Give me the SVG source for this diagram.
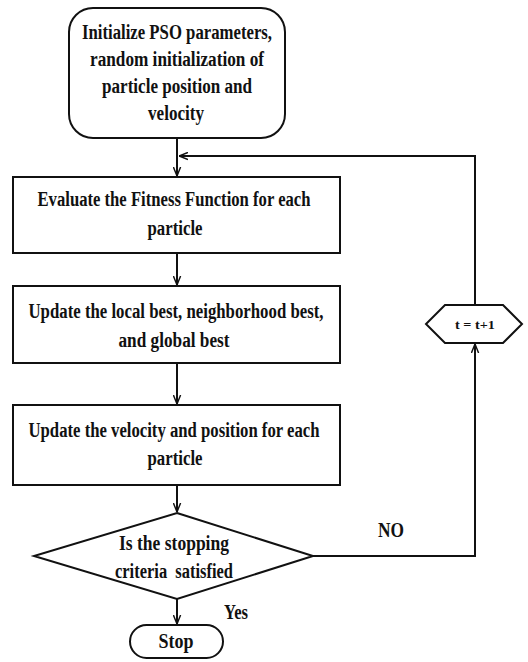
<svg xmlns="http://www.w3.org/2000/svg" width="528" height="662" viewBox="0 0 528 662">
<defs>
<style>
.s{fill:#fff;stroke:#111;stroke-width:2}
.t{font-family:"Liberation Serif",serif;font-weight:bold;font-size:20px;fill:#111;text-anchor:middle}
.c{fill:none;stroke:#111;stroke-width:2}
</style>
<marker id="a" viewBox="0 0 10 10" refX="10" refY="5" markerWidth="9" markerHeight="9" orient="auto" markerUnits="userSpaceOnUse">
<path d="M0,1 L10,5 L0,9" fill="none" stroke="#111" stroke-width="1.6"/>
</marker>
</defs>
<rect width="528" height="662" fill="#fff"/>
<g id="connectors">
<line class="c" x1="177" y1="138" x2="177" y2="176" marker-end="url(#a)"/>
<polyline class="c" points="475,305 475,156 179,156" marker-end="url(#a)"/>
<line class="c" x1="177" y1="253" x2="177" y2="285" marker-end="url(#a)"/>
<line class="c" x1="177" y1="363" x2="177" y2="404" marker-end="url(#a)"/>
<line class="c" x1="177" y1="485" x2="177" y2="512" marker-end="url(#a)"/>
<polyline class="c" points="313,556 475,556 475,344" marker-end="url(#a)"/>
<line class="c" x1="177" y1="599" x2="177" y2="624" marker-end="url(#a)"/>
<text class="t" x="391" y="537" textLength="26" lengthAdjust="spacingAndGlyphs">NO</text>
<text class="t" x="236" y="619" textLength="24" lengthAdjust="spacingAndGlyphs">Yes</text>
</g>
<g id="init">
<rect class="s" x="69" y="8" width="216" height="130" rx="24"/>
<text class="t" x="177" y="39" textLength="190" lengthAdjust="spacingAndGlyphs">Initialize PSO parameters,</text>
<text class="t" x="177" y="66" textLength="174" lengthAdjust="spacingAndGlyphs">random initialization of</text>
<text class="t" x="177" y="93" textLength="150" lengthAdjust="spacingAndGlyphs">particle position and</text>
<text class="t" x="176" y="120" textLength="56" lengthAdjust="spacingAndGlyphs">velocity</text>
</g>
<g id="evaluate">
<rect class="s" x="13" y="177" width="327" height="76"/>
<text class="t" x="174" y="206" textLength="273" lengthAdjust="spacingAndGlyphs">Evaluate the Fitness Function for each</text>
<text class="t" x="175" y="235" textLength="55" lengthAdjust="spacingAndGlyphs">particle</text>
</g>
<g id="update-best">
<rect class="s" x="13" y="286" width="327" height="77"/>
<text class="t" x="176" y="318" textLength="295" lengthAdjust="spacingAndGlyphs">Update the local best, neighborhood best,</text>
<text class="t" x="174" y="347" textLength="111" lengthAdjust="spacingAndGlyphs">and global best</text>
</g>
<g id="update-velocity">
<rect class="s" x="13" y="405" width="327" height="80"/>
<text class="t" x="174" y="437" textLength="291" lengthAdjust="spacingAndGlyphs">Update the velocity and position for each</text>
<text class="t" x="175" y="465" textLength="55" lengthAdjust="spacingAndGlyphs">particle</text>
</g>
<g id="decision">
<polygon class="s" points="177,513 313,556 177,599 34,556"/>
<text class="t" x="174" y="550" textLength="110" lengthAdjust="spacingAndGlyphs">Is the stopping</text>
<text class="t" x="174" y="578" textLength="118" lengthAdjust="spacingAndGlyphs" xml:space="preserve">criteria  satisfied</text>
</g>
<g id="increment">
<polygon class="s" points="445,305 503,305 522,324 503,343 445,343 426,324"/>
<text class="t" x="475" y="329" style="font-size:13px" textLength="40" lengthAdjust="spacingAndGlyphs">t = t+1</text>
</g>
<g id="stop">
<rect class="s" x="130" y="625" width="93" height="33" rx="16.5"/>
<text class="t" x="176" y="648" textLength="35" lengthAdjust="spacingAndGlyphs">Stop</text>
</g>
</svg>
